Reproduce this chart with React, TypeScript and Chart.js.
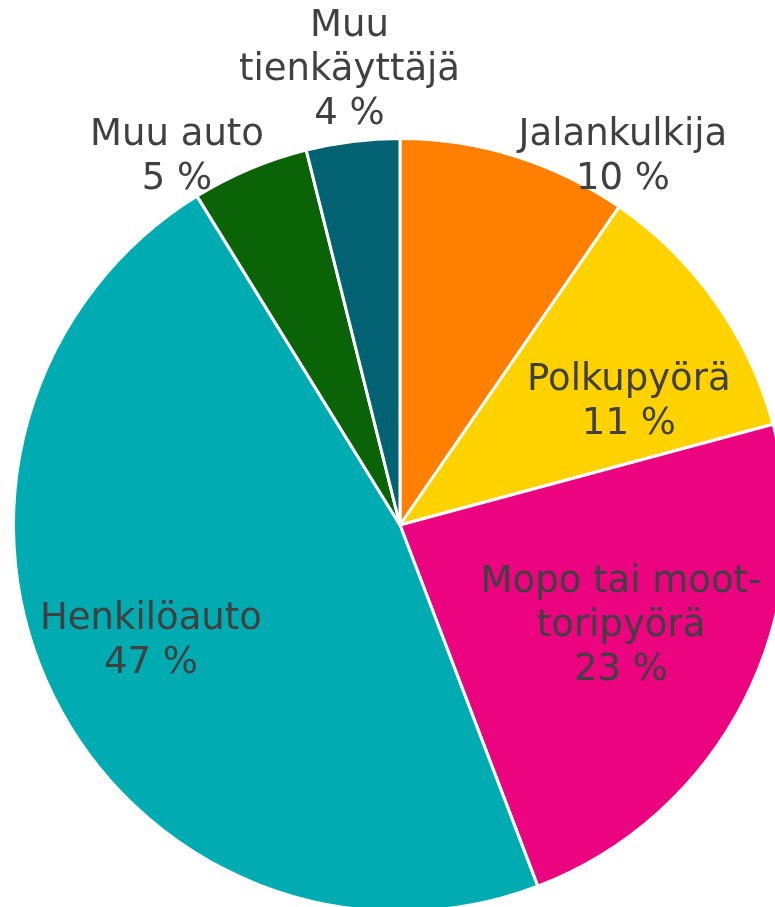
import React, { useEffect, useRef } from "react";
import { Chart, registerables } from "chart.js";

Chart.register(...registerables);

const categories = ["Jalankulkija", "Polkupyörä", "Mopo tai moottoripyörä", "Henkilöauto", "Muu auto", "Muu tienkäyttäjä"];
const values = [9.6, 11.2, 23.4, 47.0, 4.9, 3.9];
const labelLines = [
  ["Jalankulkija", "10 %"],
  ["Polkupyörä", "11 %"],
  ["Mopo tai moot-", "toripyörä", "23 %"],
  ["Henkilöauto", "47 %"],
  ["Muu auto", "5 %"],
  ["Muu", "tienkäyttäjä", "4 %"],
];
const colors = ["#FF8000", "#FFD200", "#EB0380", "#00ACB2", "#0A6306", "#036272"];

// label placement: angle (deg, clockwise from top) and distance as fraction of radius
const labelPos = [
  [31.0, 1.12],
  [61.3, 0.675],
  [114.0, 0.626],
  [245.5, 0.708],
  [329.0, 1.12],
  [353.7, 1.19],
];

const FONT_SIZE = 37;
const LINE_H = 44;
const TEXT_SHIFT = 3;

const labelPlugin = {
  id: "sliceLabels",
  afterDatasetsDraw(chart: any) {
    const ctx = chart.ctx;
    const meta = chart.getDatasetMeta(0);
    ctx.save();
    ctx.font = `${FONT_SIZE}px "DejaVu Sans", Verdana, sans-serif`;
    ctx.fillStyle = "#404040";
    ctx.textAlign = "center";
    ctx.textBaseline = "middle";
    meta.data.forEach((arc: any, i: number) => {
      const { x, y, outerRadius } = arc.getProps(["x", "y", "outerRadius"], true);
      const [deg, f] = labelPos[i];
      const a = (deg * Math.PI) / 180;
      const cx = x + Math.sin(a) * outerRadius * f;
      const cy = y - Math.cos(a) * outerRadius * f + TEXT_SHIFT;
      const lines = labelLines[i];
      const start = cy - ((lines.length - 1) * LINE_H) / 2;
      lines.forEach((t, k) => ctx.fillText(t, cx, start + k * LINE_H));
    });
    ctx.restore();
  },
};

export default function App() {
  const ref = useRef<HTMLCanvasElement>(null);
  useEffect(() => {
    if (!ref.current) return;
    const chart = new Chart(ref.current, {
      type: "pie",
      data: {
        labels: categories,
        datasets: [
          {
            data: values,
            backgroundColor: colors,
            borderColor: "#ffffff",
            borderWidth: 3,
          },
        ],
      },
      options: {
        responsive: false,
        animation: false,
        layout: { padding: { left: 12, top: 137, right: 12, bottom: 7 } },
        plugins: { legend: { display: false }, tooltip: { enabled: false } },
      },
      plugins: [labelPlugin],
    });
    return () => chart.destroy();
  }, []);
  return (
    <div style={{ position: "fixed", left: 0, top: 0, width: 775, height: 907, overflow: "hidden", background: "#fff" }}>
      <canvas ref={ref} width={800} height={920} style={{ display: "block", width: 800, height: 920 }} />
    </div>
  );
}
